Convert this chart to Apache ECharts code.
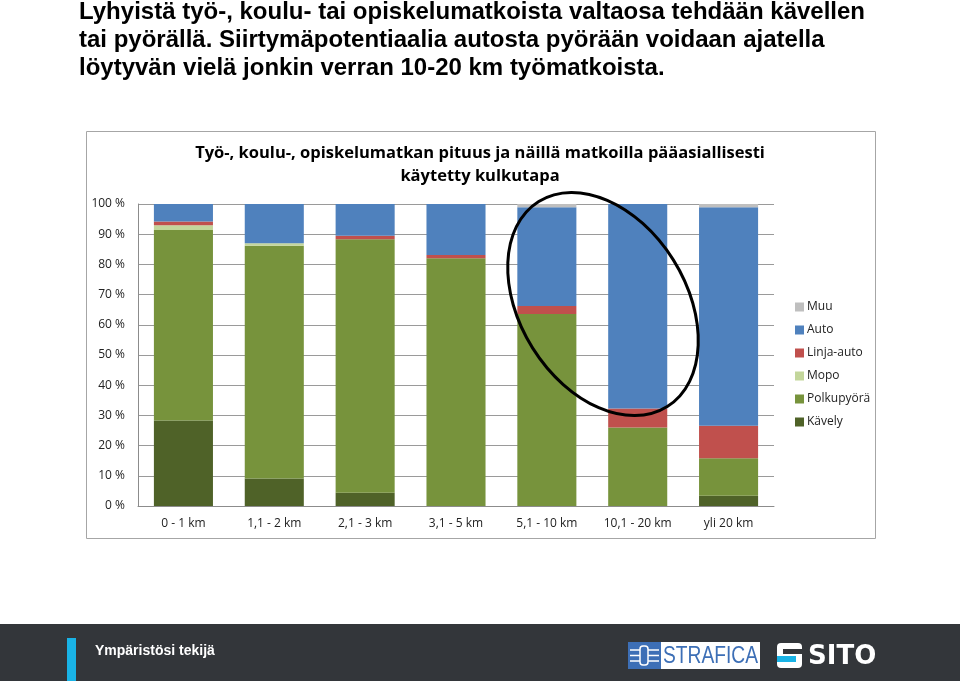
<!DOCTYPE html>
<html>
<head>
<meta charset="utf-8">
<script src="https://cdn.jsdelivr.net/npm/echarts@6/dist/echarts.min.js"></script>
<style>
  html, body { margin: 0; padding: 0; background: #fff; }
  #main { width: 960px; height: 681px; }
</style>
</head>
<body>
<div id="main"></div>
<script>
// matkan pituus
var categories = ['0 - 1 km', '1,1 - 2 km', '2,1 - 3 km', '3,1 - 5 km', '5,1 - 10 km', '10,1 - 20 km', 'yli 20 km'];
// kulkutavat (%), alhaalta ylös
var kavely     = [28.3, 9.1, 4.4, 0, 0, 0, 3.4];
var polkupyora = [63.1, 77.1, 83.9, 82.0, 63.6, 26.0, 12.4];
var mopo       = [1.6, 0.8, 0, 0, 0, 0, 0];
var linjaauto  = [1.2, 0, 1.2, 1.1, 2.6, 6.3, 10.8];
var auto       = [5.8, 13.0, 10.5, 16.9, 32.7, 67.7, 72.3];
var muu        = [0, 0, 0, 0, 1.1, 0, 1.1];
var legendOrder = ['Muu', 'Auto', 'Linja-auto', 'Mopo', 'Polkupyörä', 'Kävely'];

var chartFont = '"Open Sans", "Noto Sans", sans-serif';

function barSeries(name, data, color) {
  return {
    name: name,
    type: 'bar',
    stack: 'kulkutapa',
    barCategoryGap: '35%',
    itemStyle: { color: color },
    data: data
  };
}

var chart = echarts.init(document.getElementById('main'));
chart.setOption({
  animation: false,
  textStyle: { fontFamily: chartFont },
  title: [
    {
      // dian otsikko
      text: 'Lyhyistä työ-, koulu- tai opiskelumatkoista valtaosa tehdään kävellen\ntai pyörällä. Siirtymäpotentiaalia autosta pyörään voidaan ajatella\nlöytyvän vielä jonkin verran 10-20 km työmatkoista.',
      left: 79,
      top: -2,
      padding: 0,
      textStyle: {
        fontFamily: '"Liberation Sans", Arial, sans-serif',
        fontSize: 24,
        fontWeight: 'bold',
        lineHeight: 28,
        color: '#000'
      }
    },
    {
      text: 'Työ-, koulu-, opiskelumatkan pituus ja näillä matkoilla pääasiallisesti\nkäytetty kulkutapa',
      left: 'center',
      top: 142,
      padding: 0,
      textStyle: {
        fontFamily: chartFont,
        fontSize: 16.5,
        fontWeight: 'bold',
        lineHeight: 23,
        color: '#000'
      }
    }
  ],
  legend: {
    orient: 'vertical',
    left: 790,
    top: 296,
    itemWidth: 9,
    itemHeight: 9,
    itemGap: 11,
    icon: 'rect',
    data: legendOrder,
    textStyle: { fontSize: 12, color: '#222', padding: [0, 0, 0, -2] }
  },
  grid: { left: 138, right: 186, top: 204, bottom: 175, containLabel: false },
  xAxis: {
    type: 'category',
    data: categories,
    axisLine: { lineStyle: { color: '#8c8c8c', width: 1 } },
    axisTick: { show: false },
    axisLabel: { color: '#222', fontSize: 12, margin: 12 }
  },
  yAxis: {
    type: 'value',
    min: 0,
    max: 100,
    interval: 10,
    axisLine: { show: true, lineStyle: { color: '#8c8c8c' } },
    axisTick: { show: false },
    splitLine: { lineStyle: { color: '#9a9a9a' } },
    axisLabel: { formatter: '{value} %', color: '#222', fontSize: 12, margin: 13 }
  },
  series: [
    barSeries('Kävely', kavely, '#4F6228'),
    barSeries('Polkupyörä', polkupyora, '#77933C'),
    barSeries('Mopo', mopo, '#C3D69B'),
    barSeries('Linja-auto', linjaauto, '#C0504D'),
    barSeries('Auto', auto, '#4F81BD'),
    barSeries('Muu', muu, '#BFBFBF')
  ],
  graphic: [
    // kaavion kehys
    {
      type: 'rect', z: -1,
      shape: { x: 86.5, y: 131.5, width: 789, height: 407 },
      style: { fill: null, stroke: '#a6a6a6', lineWidth: 1 }
    },
    // korostusellipsi
    {
      type: 'ellipse', z: 100,
      x: 603, y: 304, rotation: 0.56,
      shape: { cx: 0, cy: 0, rx: 83, ry: 121 },
      style: { fill: null, stroke: '#000', lineWidth: 3 }
    },
    // alapalkki
    {
      type: 'rect', z: 1,
      shape: { x: 0, y: 624, width: 960, height: 57 },
      style: { fill: '#33363a' }
    },
    {
      type: 'rect', z: 2,
      shape: { x: 67, y: 638, width: 9, height: 43 },
      style: { fill: '#19b3e6' }
    },
    {
      type: 'text', z: 2,
      x: 95, y: 651,
      style: {
        text: 'Ympäristösi tekijä',
        fill: '#fff',
        font: 'bold 14px "Liberation Sans", Arial, sans-serif',
        verticalAlign: 'middle'
      }
    },
    // Strafica
    {
      type: 'rect', z: 2,
      shape: { x: 628, y: 642, width: 33, height: 27 },
      style: { fill: '#3d6fb6' }
    },
    {
      type: 'rect', z: 2,
      shape: { x: 661, y: 642, width: 99, height: 27 },
      style: { fill: '#fff' }
    },
    {
      type: 'polyline', z: 3,
      shape: { points: [[630, 650], [659, 650]] },
      style: { stroke: '#fff', lineWidth: 1.5 }
    },
    {
      type: 'polyline', z: 3,
      shape: { points: [[630, 655.5], [659, 655.5]] },
      style: { stroke: '#fff', lineWidth: 1.5 }
    },
    {
      type: 'polyline', z: 3,
      shape: { points: [[630, 661], [659, 661]] },
      style: { stroke: '#fff', lineWidth: 1.5 }
    },
    {
      type: 'rect', z: 3,
      shape: { x: 640, y: 646, width: 8, height: 19, r: 3 },
      style: { fill: '#3d6fb6', stroke: '#fff', lineWidth: 1.5 }
    },
    {
      type: 'text', z: 3,
      x: 663, y: 656, scaleX: 0.8,
      style: {
        text: 'STRAFICA',
        fill: '#3d6fb6',
        font: '24px "Liberation Sans", Arial, sans-serif',
        verticalAlign: 'middle'
      }
    },
    // Sito
    {
      type: 'rect', z: 2,
      shape: { x: 777, y: 643, width: 25, height: 25, r: 4 },
      style: { fill: '#fff' }
    },
    {
      type: 'rect', z: 3,
      shape: { x: 783, y: 649, width: 19, height: 5 },
      style: { fill: '#33363a' }
    },
    {
      type: 'rect', z: 3,
      shape: { x: 777, y: 656, width: 19, height: 6 },
      style: { fill: '#19b3e6' }
    },
    {
      type: 'text', z: 3,
      x: 808, y: 657,
      style: {
        text: 'SITO',
        fill: '#fff',
        font: 'bold 26px "DejaVu Sans", sans-serif',
        verticalAlign: 'middle'
      }
    }
  ]
});
</script>
</body>
</html>
